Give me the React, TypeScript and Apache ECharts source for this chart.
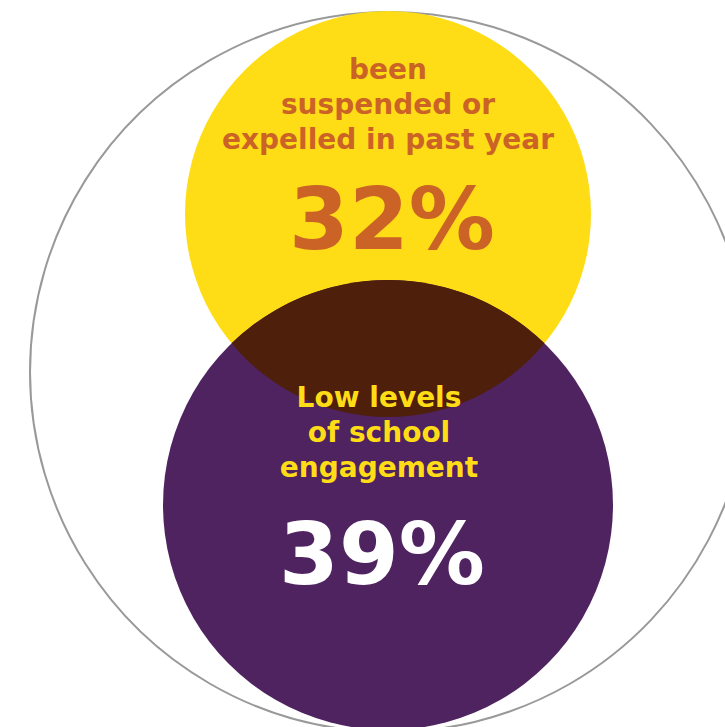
import React, { useEffect, useRef } from "react";
import * as echarts from "echarts";

// ---- data ----
const setNames = ["been suspended or expelled in past year", "Low levels of school engagement"];
const setLabelLines = [
  ["been", "suspended or", "expelled in past year"],
  ["Low levels", "of school", "engagement"],
];
const setValues = [32, 39];

// ---- layout / style (not data) ----
const OUTER = { cx: 390, cy: 372, r: 360 };
const CIRCLES = [
  { cx: 388, cy: 214, r: 203 },
  { cx: 388, cy: 505, r: 225 },
];
const FILLS = ["#fedd17", "#4f2360"];
const OVERLAP_FILL = "#4e1f0b";
const LABEL_COLORS = ["#cc6326", "#fedd17"];
const VALUE_COLORS = ["#cc6326", "#ffffff"];
const LABEL_X = [388, 379];
const LABEL_BASELINES = [
  [79, 114, 149],
  [407, 442, 477],
];
const VALUE_BASELINES = [250, 585];
const VALUE_X = [392, 382];
const FONT = "'DejaVu Sans', sans-serif";
const LABEL_SIZE = 28;
const VALUE_SIZE = 86;

function lensPath() {
  const [a, b] = CIRCLES;
  const d = Math.hypot(b.cx - a.cx, b.cy - a.cy);
  const l = (d * d + a.r * a.r - b.r * b.r) / (2 * d);
  const h = Math.sqrt(a.r * a.r - l * l);
  const ux = (b.cx - a.cx) / d;
  const uy = (b.cy - a.cy) / d;
  const px = a.cx + ux * l;
  const py = a.cy + uy * l;
  const p1 = [px - uy * h, py + ux * h];
  const p2 = [px + uy * h, py - ux * h];
  const left = p1[0] < p2[0] ? p1 : p2;
  const right = p1[0] < p2[0] ? p2 : p1;
  return `M ${left[0]} ${left[1]} A ${b.r} ${b.r} 0 0 1 ${right[0]} ${right[1]} A ${a.r} ${a.r} 0 0 1 ${left[0]} ${left[1]} Z`;
}

export default function App() {
  const ref = useRef<HTMLDivElement>(null);
  useEffect(() => {
    document.body.style.margin = "0";
    if (!ref.current) return;
    const chart = echarts.init(ref.current, undefined, { renderer: "svg" });
    const data = setValues.map((v, i) => ({ name: setNames[i], value: [i, v] }));
    chart.setOption({
      animation: false,
      backgroundColor: "#ffffff",
      graphic: [
        {
          type: "circle",
          z: 0,
          shape: { cx: OUTER.cx, cy: OUTER.cy, r: OUTER.r },
          style: { fill: "none", stroke: "#999999", lineWidth: 2 },
        },
      ],
      series: [
        {
          type: "custom",
          coordinateSystem: "none",
          z: 2,
          data,
          renderItem: (params: any) => {
            const i = params.dataIndex;
            const c = CIRCLES[i];
            return {
              type: "circle",
              shape: { cx: c.cx, cy: c.cy, r: c.r },
              style: { fill: FILLS[i] },
            };
          },
        },
        {
          type: "custom",
          coordinateSystem: "none",
          z: 3,
          data: [{ name: "overlap", value: [0] }],
          renderItem: () => ({
            type: "path",
            shape: { pathData: lensPath() },
            style: { fill: OVERLAP_FILL },
          }),
        },
        {
          type: "custom",
          coordinateSystem: "none",
          z: 4,
          data,
          renderItem: (params: any, api: any) => {
            const i = params.dataIndex;
            const v = api.value(1);
            const children: any[] = setLabelLines[i].map((line, k) => ({
              type: "text",
              style: {
                text: line,
                x: LABEL_X[i],
                y: LABEL_BASELINES[i][k] - 0.35 * LABEL_SIZE,
                align: "center",
                verticalAlign: "middle",
                fill: LABEL_COLORS[i],
                fontFamily: FONT,
                fontWeight: "bold",
                fontSize: LABEL_SIZE,
              },
            }));
            children.push({
              type: "text",
              style: {
                text: `${v}%`,
                x: VALUE_X[i],
                y: VALUE_BASELINES[i] - 0.36 * VALUE_SIZE,
                align: "center",
                verticalAlign: "middle",
                fill: VALUE_COLORS[i],
                fontFamily: FONT,
                fontWeight: "bold",
                fontSize: VALUE_SIZE,
              },
            });
            return { type: "group", children };
          },
        },
      ],
    });
    return () => chart.dispose();
  }, []);
  return <div ref={ref} style={{ width: 725, height: 727 }} />;
}
